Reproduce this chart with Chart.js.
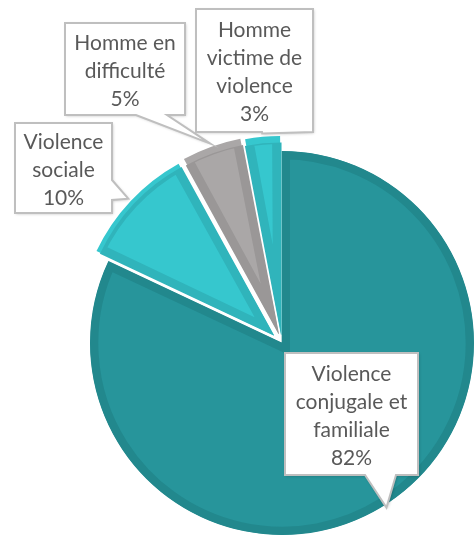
<!DOCTYPE html>
<html>
<head>
<meta charset="utf-8">
<script src="https://cdn.jsdelivr.net/npm/chart.js@4.4.1/dist/chart.umd.min.js"></script>
<style>
  body { margin: 0; background: #fff; }
  #graphique { display: block; }
</style>
</head>
<body>
<canvas id="graphique" width="474" height="539"></canvas>
<script>
const ctx = document.getElementById('graphique');

// catégories (une ligne par élément) et pourcentages
const categories = [
  ['Violence', 'conjugale et', 'familiale'],
  ['Violence', 'sociale'],
  ['Homme en', 'difficulté'],
  ['Homme', 'victime de', 'violence']
];
const pourcentages = [82, 10, 5, 3];

const couleurs = ['#27959b', '#36c7ce', '#aaa7a7', '#36c7ce'];
const bordures = ['#22888d', '#30b4bb', '#9a9797', '#30b4bb'];
const eclatements = [0, 45, 40, 34];

// bulles des étiquettes : rectangle et base de la pointe
const bulles = [
  { x: 285, y: 353, w: 133, h: 122, cote: 'bas', base: [365, 396] },
  { x: 15, y: 123, w: 97, h: 90, cote: 'droite', base: [180, 200] },
  { x: 65, y: 23, w: 120, h: 92, cote: 'bas', base: [136, 167] },
  { x: 196, y: 9, w: 117, h: 123, cote: 'bas', base: [262, 313] }
];

// point du bord extérieur d'une part, au milieu de son angle (avec l'éclatement)
function pointe(arc) {
  const p = arc.getProps(['x', 'y', 'startAngle', 'endAngle', 'outerRadius'], true);
  const milieu = (p.startAngle + p.endAngle) / 2;
  const angle = p.endAngle - p.startAngle;
  const off = (arc.options.offset || 0) / 4;
  const d = off * (2 - Math.sin(Math.min(Math.PI, angle))) + p.outerRadius + 3;
  return [p.x + Math.cos(milieu) * d, p.y + Math.sin(milieu) * d];
}

function tracerBulle(c, b, tip) {
  const droite = b.x + b.w;
  const bas = b.y + b.h;
  c.beginPath();
  c.moveTo(b.x, b.y);
  c.lineTo(droite, b.y);
  if (b.cote === 'droite') {
    c.lineTo(droite, b.base[0]);
    c.lineTo(tip[0], tip[1]);
    c.lineTo(droite, b.base[1]);
  }
  c.lineTo(droite, bas);
  if (b.cote === 'bas') {
    c.lineTo(b.base[1], bas);
    c.lineTo(tip[0], tip[1]);
    c.lineTo(b.base[0], bas);
  }
  c.lineTo(b.x, bas);
  c.closePath();
}

const etiquettes = {
  id: 'etiquettes',
  afterDatasetsDraw(chart) {
    const c = chart.ctx;
    const arcs = chart.getDatasetMeta(0).data;
    arcs.forEach(function (arc, i) {
      const b = bulles[i];
      const tip = pointe(arc);
      c.save();
      tracerBulle(c, b, tip);
      c.shadowColor = 'rgba(0,0,0,0.25)';
      c.shadowBlur = 3;
      c.shadowOffsetX = 1;
      c.shadowOffsetY = 1;
      c.fillStyle = '#ffffff';
      c.fill();
      c.shadowColor = 'transparent';
      c.lineWidth = 2;
      c.lineJoin = 'miter';
      c.strokeStyle = '#bfbfbf';
      c.stroke();

      const lignes = categories[i].concat([pourcentages[i] + '%']);
      const interligne = 28;
      const cx = b.x + b.w / 2;
      const cy = b.y + b.h / 2 + 2;
      c.font = '21px Lato';
      c.fillStyle = '#595959';
      c.textAlign = 'center';
      c.textBaseline = 'middle';
      lignes.forEach(function (l, k) {
        c.fillText(l, cx, cy + (k - (lignes.length - 1) / 2) * interligne);
      });
      c.restore();
    });
  }
};

new Chart(ctx, {
  type: 'pie',
  data: {
    labels: categories,
    datasets: [{
      data: pourcentages,
      backgroundColor: couleurs,
      borderColor: bordures,
      borderWidth: 8,
      borderAlign: 'inner',
      borderJoinStyle: 'miter',
      offset: eclatements,
      hoverOffset: 0,
      clip: false
    }]
  },
  options: {
    responsive: false,
    animation: false,
    events: [],
    radius: 192,
    layout: { padding: { left: 90, top: 147, right: 0, bottom: 0 } },
    plugins: {
      legend: { display: false },
      tooltip: { enabled: false }
    }
  },
  plugins: [etiquettes]
});
</script>
</body>
</html>
